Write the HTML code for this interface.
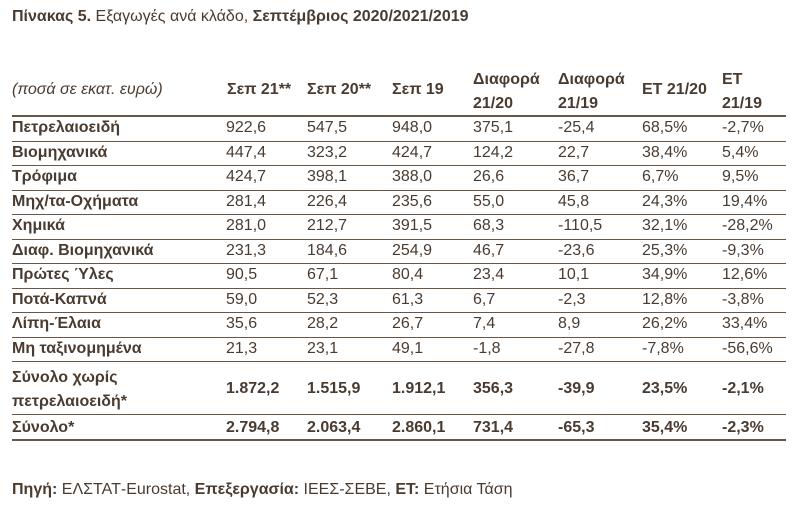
<!DOCTYPE html>
<html><head><meta charset="utf-8"><style>
body{margin:0;width:800px;height:513px;background:#fff;font-family:"Liberation Sans",sans-serif;color:#4a3b30;font-size:16px;position:relative;overflow:hidden}
.t{position:absolute;white-space:nowrap;line-height:18px}
.b{font-weight:bold}
.l{position:absolute;left:12px;width:774px;background:#6b5646}
</style></head><body>
<div class="t" style="left:12px;top:8px"><b>Πίνακας 5.</b> Εξαγωγές ανά κλάδο, <b>Σεπτέμβριος 2020/2021/2019</b></div>

<div class="t" style="left:12px;top:81px;font-style:italic">(ποσά σε εκατ. ευρώ)</div>
<div class="t b" style="left:227px;top:81px">Σεπ 21**</div>
<div class="t b" style="left:307px;top:81px">Σεπ 20**</div>
<div class="t b" style="left:392px;top:81px">Σεπ 19</div>
<div class="t b" style="left:473px;top:68px;line-height:24px">Διαφορά<br>21/20</div>
<div class="t b" style="left:558px;top:68px;line-height:24px">Διαφορά<br>21/19</div>
<div class="t b" style="left:642px;top:81px">ΕΤ 21/20</div>
<div class="t b" style="left:722px;top:68px;line-height:24px">ΕΤ<br>21/19</div>
<div class="l" style="top:115px;height:2px"></div>

<div id="rows"></div>
<script>
var d=[["Πετρελαιοειδή","922,6","547,5","948,0","375,1","-25,4","68,5%","-2,7%"],
["Βιομηχανικά","447,4","323,2","424,7","124,2","22,7","38,4%","5,4%"],
["Τρόφιμα","424,7","398,1","388,0","26,6","36,7","6,7%","9,5%"],
["Μηχ/τα-Οχήματα","281,4","226,4","235,6","55,0","45,8","24,3%","19,4%"],
["Χημικά","281,0","212,7","391,5","68,3","-110,5","32,1%","-28,2%"],
["Διαφ. Βιομηχανικά","231,3","184,6","254,9","46,7","-23,6","25,3%","-9,3%"],
["Πρώτες Ύλες","90,5","67,1","80,4","23,4","10,1","34,9%","12,6%"],
["Ποτά-Καπνά","59,0","52,3","61,3","6,7","-2,3","12,8%","-3,8%"],
["Λίπη-Έλαια","35,6","28,2","26,7","7,4","8,9","26,2%","33,4%"],
["Μη ταξινομημένα","21,3","23,1","49,1","-1,8","-27,8","-7,8%","-56,6%"]];
var xs=[12,226,307,392,473,558,642,722],h="";
d.forEach(function(r,i){var y=119+i*24.5;
r.forEach(function(c,j){h+='<div class="t'+(j==0?' b':'')+'" style="left:'+xs[j]+'px;top:'+y+'px">'+c+'</div>'});
h+='<div class="l" style="top:'+(y+21.5)+'px;height:1px"></div>';});
var t=[["1.872,2","1.515,9","1.912,1","356,3","-39,9","23,5%","-2,1%"],["2.794,8","2.063,4","2.860,1","731,4","-65,3","35,4%","-2,3%"]];
h+='<div class="t b" style="left:12px;top:366px;line-height:24px">Σύνολο χωρίς<br>πετρελαιοειδή*</div>';
t[0].forEach(function(c,j){h+='<div class="t b" style="left:'+xs[j+1]+'px;top:380px">'+c+'</div>'});
h+='<div class="l" style="top:414px;height:1px"></div>';
h+='<div class="t b" style="left:12px;top:419px">Σύνολο*</div>';
t[1].forEach(function(c,j){h+='<div class="t b" style="left:'+xs[j+1]+'px;top:419px">'+c+'</div>'});
h+='<div class="l" style="top:439px;height:2px"></div>';
document.getElementById("rows").innerHTML=h;
</script>
<div class="t" style="left:12px;top:481px"><b>Πηγή:</b> ΕΛΣΤΑΤ-Eurostat, <b>Επεξεργασία:</b> ΙΕΕΣ-ΣΕΒΕ, <b>ΕΤ:</b> Ετήσια Τάση</div>
</body></html>
